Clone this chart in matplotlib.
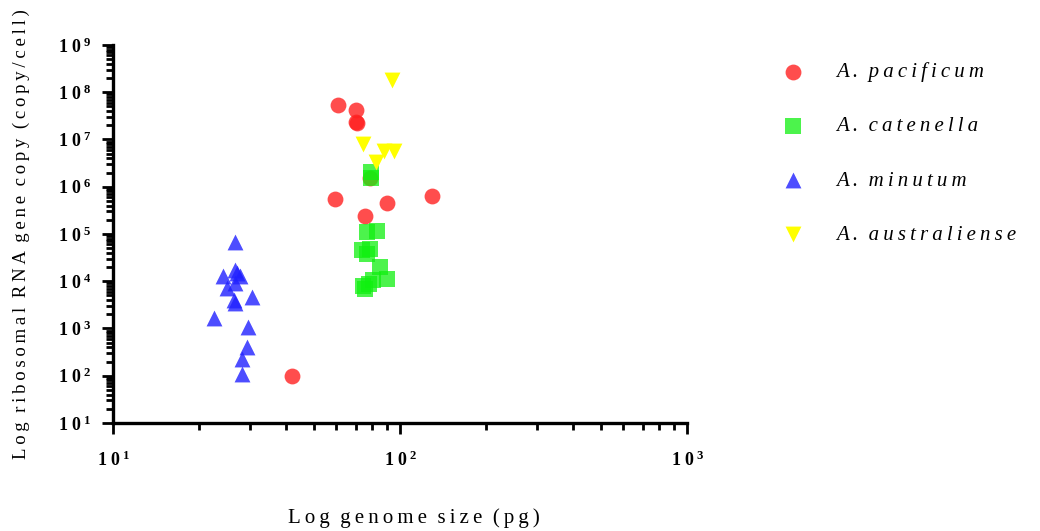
import matplotlib.pyplot as plt
import matplotlib as mpl
from matplotlib.ticker import FixedLocator, FixedFormatter, LogLocator, NullFormatter

mpl.rcParams['font.family'] = ['Liberation Serif', 'DejaVu Serif']
mpl.rcParams['mathtext.fontset'] = 'custom'
mpl.rcParams['mathtext.rm'] = 'Liberation Serif'
mpl.rcParams['mathtext.bf'] = 'Liberation Serif:bold'

# genome size (pg) vs rRNA gene copies per cell
pacificum_x = [60.8, 70.3, 70.5, 71.0, 78.6, 59.4, 75.5, 90.1, 129, 42.1]
pacificum_y = [5.4e7, 4.2e7, 2.35e7, 2.2e7, 1.5e6, 5.5e5, 2.4e5, 4.5e5, 6.4e5, 100]

catenella_x = [79.3, 79.3, 76.6, 83.4, 73.6, 78.7, 77.0, 85.1, 89.9, 80.3, 74.0, 75.3, 78.0]
catenella_y = [2.1e6, 1.5e6, 1.09e5, 1.17e5, 4.6e4, 4.7e4, 3.7e4, 1.97e4, 1.12e4, 1.07e4, 7.9e3, 6.9e3, 8.7e3]

minutum_x = [26.5, 24.2, 26.5, 27.7, 27.0, 24.9, 26.5, 30.4, 26.3, 26.6, 22.4, 29.5, 29.2, 28.1, 28.1]
minutum_y = [6.9e4, 1.29e4, 1.73e4, 1.29e4, 1.48e4, 7.1e3, 9.1e3, 4.6e3, 4.0e3, 3.4e3, 1.64e3, 1.09e3, 412, 226, 109]

australiense_x = [93.5, 74.3, 87.7, 95.5, 82.5]
australiense_y = [1.78e8, 8.0e6, 5.8e6, 5.8e6, 3.4e6]

xticks = [10, 100, 1000]
xlabels = [r'$\mathbf{1\;0^{\,1}}$', r'$\mathbf{1\;0^{\,2}}$', r'$\mathbf{1\;0^{\,3}}$']
yticks = [10 ** k for k in range(1, 10)]
ylabels = [r'$\mathbf{1\;0^{\,%d}}$' % k for k in range(1, 10)]


def spaced(s):
    # letter-spaced look of the original figure
    return '  '.join('\u2009'.join(w) for w in s.split(' '))


fig = plt.figure(figsize=(10.4, 5.31), dpi=100)
ax = fig.add_axes([0.1087, 0.2034, 0.6606 - 0.1087, 0.9153 - 0.2034])

ms = 130
ax.scatter(pacificum_x, pacificum_y, s=ms, marker='o', color='#ff2020', alpha=0.8,
           linewidths=0, label=spaced('A. pacificum'), zorder=3)
ax.scatter(catenella_x, catenella_y, s=ms, marker='s', color='#10f010', alpha=0.75,
           linewidths=0, label=spaced('A. catenella'), zorder=3)
ax.scatter(minutum_x, minutum_y, s=ms, marker='^', color='#2020ff', alpha=0.8,
           linewidths=0, label=spaced('A. minutum'), zorder=3)
ax.scatter(australiense_x, australiense_y, s=ms, marker='v', color='#ffff00',
           linewidths=0, label=spaced('A. australiense'), zorder=3)

ax.set_xscale('log')
ax.set_yscale('log')
ax.set_xlim(10, 1000)
ax.set_ylim(10, 1e9)

ax.xaxis.set_major_locator(FixedLocator(xticks))
ax.xaxis.set_major_formatter(FixedFormatter(xlabels))
ax.yaxis.set_major_locator(FixedLocator(yticks))
ax.yaxis.set_major_formatter(FixedFormatter(ylabels))
ax.xaxis.set_minor_locator(LogLocator(base=10, subs=range(2, 10), numticks=20))
ax.yaxis.set_minor_locator(LogLocator(base=10, subs=range(2, 10), numticks=20))
ax.xaxis.set_minor_formatter(NullFormatter())
ax.yaxis.set_minor_formatter(NullFormatter())

for s in ['top', 'right']:
    ax.spines[s].set_visible(False)
for s in ['left', 'bottom']:
    ax.spines[s].set_linewidth(2.4)
ax.tick_params(which='major', direction='out', length=8, width=2, labelsize=13)
ax.tick_params(axis='x', which='major', pad=12)
ax.tick_params(axis='y', which='major', pad=8)
ax.tick_params(which='minor', direction='out', length=5, width=2)

fig.text(0.398, 0.0245, spaced('Log genome size (pg)'), fontsize=15, ha='center', va='center')
ax.set_ylabel(spaced('Log ribosomal RNA gene copy (copy/cell)'), fontsize=13.5, labelpad=20)

leg = ax.legend(loc='upper left', bbox_to_anchor=(0.724, 0.918), bbox_transform=fig.transFigure,
                frameon=False, prop={'family': 'Liberation Serif', 'style': 'italic', 'size': 15},
                labelspacing=1.66, handletextpad=1.1, markerscale=1.0)

plt.savefig('out.png', dpi=100)
